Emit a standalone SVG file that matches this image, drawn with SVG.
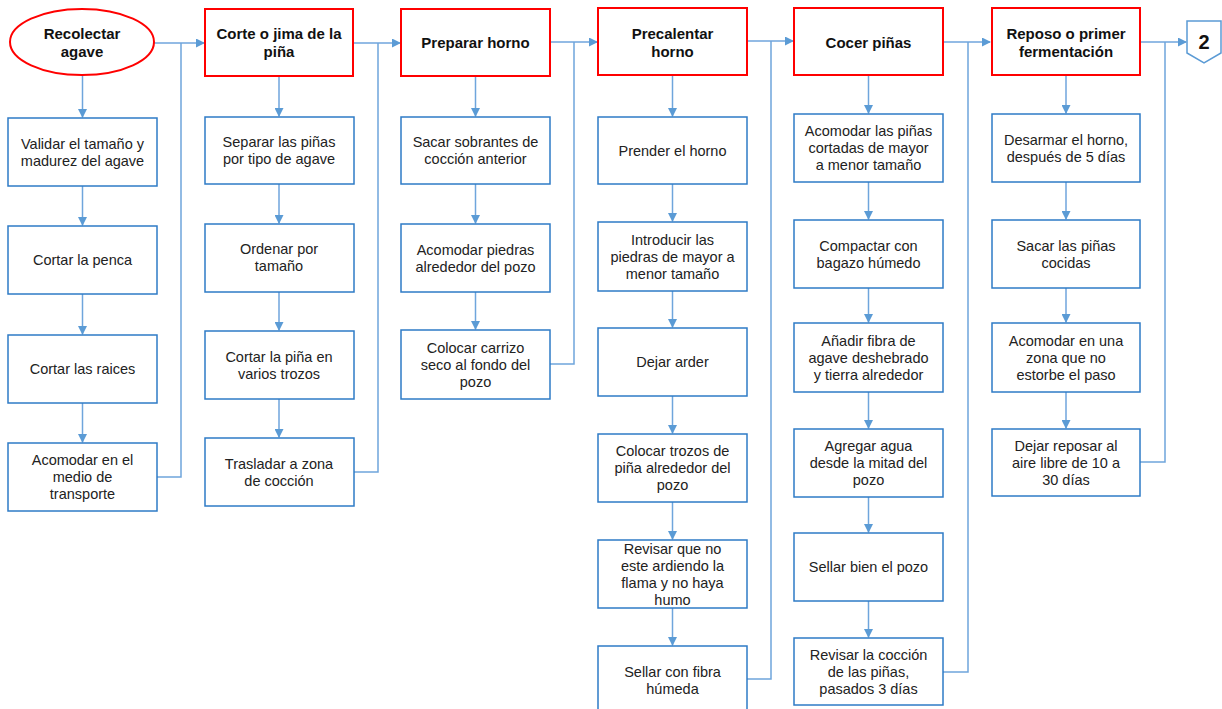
<svg xmlns="http://www.w3.org/2000/svg" width="1222" height="709" viewBox="0 0 1222 709">
<style>
.hd{fill:#fff;stroke:#FF0000;stroke-width:2}
.bx{fill:#fff;stroke:#2E7BC6;stroke-width:1.5}
.ht{font-family:"Liberation Sans",Arial,sans-serif;font-weight:bold;font-size:15px;fill:#111;text-anchor:middle}
.t{font-family:"Liberation Sans",Arial,sans-serif;font-size:14.5px;fill:#222;text-anchor:middle}
.c{fill:none;stroke:#6FA5DC;stroke-width:1.5}
.a{fill:none;stroke:#6FA5DC;stroke-width:1.5;marker-end:url(#ar)}
</style>
<defs>
<marker id="ar" markerUnits="userSpaceOnUse" markerWidth="9" markerHeight="9" refX="8" refY="4.5" orient="auto">
<path d="M0,0 L9,4.5 L0,9 z" fill="#5B9BD5"/>
</marker>
</defs>
<rect width="1222" height="709" fill="#fff"/>
<g id="connectors">
<path class="a" d="M154,43 H204"/>
<path class="a" d="M353,43 H400"/>
<path class="a" d="M550,42 H597"/>
<path class="a" d="M747,41 H793"/>
<path class="a" d="M943,42 H990"/>
<path class="a" d="M1140,42 H1186"/>
<path class="c" d="M157,477 H181 V43"/>
<path class="c" d="M353,472 H378 V43"/>
<path class="c" d="M550,364 H574 V42"/>
<path class="c" d="M747,679 H771 V41"/>
<path class="c" d="M943,672 H968 V42"/>
<path class="c" d="M1140,462 H1165 V42"/>
<path class="a" d="M82.5,75 V117"/>
<path class="a" d="M82.5,186 V225"/>
<path class="a" d="M82.5,294 V334"/>
<path class="a" d="M82.5,403 V442"/>
<path class="a" d="M279,76 V116"/>
<path class="a" d="M279,184 V223"/>
<path class="a" d="M279,292 V330"/>
<path class="a" d="M279,399 V437"/>
<path class="a" d="M475.5,76 V116"/>
<path class="a" d="M475.5,184 V223"/>
<path class="a" d="M475.5,292 V329"/>
<path class="a" d="M672.5,75 V116"/>
<path class="a" d="M672.5,184 V221"/>
<path class="a" d="M672.5,291 V327"/>
<path class="a" d="M672.5,396 V433"/>
<path class="a" d="M672.5,502 V539"/>
<path class="a" d="M672.5,608 V645"/>
<path class="a" d="M868.5,75 V113"/>
<path class="a" d="M868.5,182 V219"/>
<path class="a" d="M868.5,288 V322"/>
<path class="a" d="M868.5,392 V428"/>
<path class="a" d="M868.5,497 V532"/>
<path class="a" d="M868.5,601 V637"/>
<path class="a" d="M1066,76 V113"/>
<path class="a" d="M1066,182 V219"/>
<path class="a" d="M1066,288 V322"/>
<path class="a" d="M1066,392 V428"/>
</g>
<g id="n1h"><ellipse class="hd" cx="82" cy="42" rx="72" ry="33"/><text class="ht" x="82" y="39">Recolectar</text><text class="ht" x="82" y="57">agave</text></g>
<g id="n1a"><rect class="bx" x="8" y="118" width="149" height="68"/><text class="t" x="82.5" y="148.5">Validar el tamaño y</text><text class="t" x="82.5" y="165.5">madurez del agave</text></g>
<g id="n1b"><rect class="bx" x="8" y="226" width="149" height="68"/><text class="t" x="82.5" y="265">Cortar la penca</text></g>
<g id="n1c"><rect class="bx" x="8" y="335" width="149" height="68"/><text class="t" x="82.5" y="374">Cortar las raices</text></g>
<g id="n1d"><rect class="bx" x="8" y="443" width="149" height="68"/><text class="t" x="82.5" y="465">Acomodar en el</text><text class="t" x="82.5" y="482">medio de</text><text class="t" x="82.5" y="499">transporte</text></g>
<g id="n2h"><rect class="hd" x="205" y="9" width="148" height="67"/><text class="ht" x="279" y="39">Corte o jima de la</text><text class="ht" x="279" y="57">piña</text></g>
<g id="n2a"><rect class="bx" x="205" y="117" width="149" height="67"/><text class="t" x="279" y="147">Separar las piñas</text><text class="t" x="279" y="164">por tipo de agave</text></g>
<g id="n2b"><rect class="bx" x="205" y="224" width="149" height="68"/><text class="t" x="279" y="254">Ordenar por</text><text class="t" x="279" y="271">tamaño</text></g>
<g id="n2c"><rect class="bx" x="205" y="331" width="149" height="68"/><text class="t" x="279" y="361.5">Cortar la piña en</text><text class="t" x="279" y="378.5">varios trozos</text></g>
<g id="n2d"><rect class="bx" x="205" y="438" width="149" height="68"/><text class="t" x="279" y="468.5">Trasladar a zona</text><text class="t" x="279" y="485.5">de cocción</text></g>
<g id="n3h"><rect class="hd" x="401" y="9" width="149" height="67"/><text class="ht" x="475.5" y="48">Preparar horno</text></g>
<g id="n3a"><rect class="bx" x="401" y="117" width="149" height="67"/><text class="t" x="475.5" y="147">Sacar sobrantes de</text><text class="t" x="475.5" y="164">cocción anterior</text></g>
<g id="n3b"><rect class="bx" x="401" y="224" width="149" height="68"/><text class="t" x="475.5" y="254.5">Acomodar piedras</text><text class="t" x="475.5" y="271.5">alrededor del pozo</text></g>
<g id="n3c"><rect class="bx" x="401" y="330" width="149" height="69"/><text class="t" x="475.5" y="352.5">Colocar carrizo</text><text class="t" x="475.5" y="369.5">seco al fondo del</text><text class="t" x="475.5" y="386.5">pozo</text></g>
<g id="n4h"><rect class="hd" x="598" y="8" width="149" height="67"/><text class="ht" x="672.5" y="38.5">Precalentar</text><text class="ht" x="672.5" y="57">horno</text></g>
<g id="n4a"><rect class="bx" x="598" y="117" width="149" height="67"/><text class="t" x="672.5" y="155.5">Prender el horno</text></g>
<g id="n4b"><rect class="bx" x="598" y="222" width="149" height="69"/><text class="t" x="672.5" y="244.5">Introducir las</text><text class="t" x="672.5" y="261.5">piedras de mayor a</text><text class="t" x="672.5" y="278.5">menor tamaño</text></g>
<g id="n4c"><rect class="bx" x="598" y="328" width="149" height="68"/><text class="t" x="672.5" y="367">Dejar arder</text></g>
<g id="n4d"><rect class="bx" x="598" y="434" width="149" height="68"/><text class="t" x="672.5" y="456">Colocar trozos de</text><text class="t" x="672.5" y="473">piña alrededor del</text><text class="t" x="672.5" y="490">pozo</text></g>
<g id="n4e"><rect class="bx" x="598" y="540" width="149" height="68"/><text class="t" x="672.5" y="553.5">Revisar que no</text><text class="t" x="672.5" y="570.5">este ardiendo la</text><text class="t" x="672.5" y="587.5">flama y no haya</text><text class="t" x="672.5" y="604.5">humo</text></g>
<g id="n4f"><rect class="bx" x="598" y="646" width="149" height="68"/><text class="t" x="672.5" y="676.5">Sellar con fibra</text><text class="t" x="672.5" y="693.5">húmeda</text></g>
<g id="n5h"><rect class="hd" x="794" y="8" width="149" height="67"/><text class="ht" x="868.5" y="47.5">Cocer piñas</text></g>
<g id="n5a"><rect class="bx" x="794" y="114" width="149" height="68"/><text class="t" x="868.5" y="136">Acomodar las piñas</text><text class="t" x="868.5" y="153">cortadas de mayor</text><text class="t" x="868.5" y="170">a menor tamaño</text></g>
<g id="n5b"><rect class="bx" x="794" y="220" width="149" height="68"/><text class="t" x="868.5" y="250.5">Compactar con</text><text class="t" x="868.5" y="267.5">bagazo húmedo</text></g>
<g id="n5c"><rect class="bx" x="794" y="323" width="149" height="69"/><text class="t" x="868.5" y="345.5">Añadir fibra de</text><text class="t" x="868.5" y="362.5">agave deshebrado</text><text class="t" x="868.5" y="379.5">y tierra alrededor</text></g>
<g id="n5d"><rect class="bx" x="794" y="429" width="149" height="68"/><text class="t" x="868.5" y="451">Agregar agua</text><text class="t" x="868.5" y="468">desde la mitad del</text><text class="t" x="868.5" y="485">pozo</text></g>
<g id="n5e"><rect class="bx" x="794" y="533" width="149" height="68"/><text class="t" x="868.5" y="572">Sellar bien el pozo</text></g>
<g id="n5f"><rect class="bx" x="794" y="638" width="149" height="67"/><text class="t" x="868.5" y="659.5">Revisar la cocción</text><text class="t" x="868.5" y="676.5">de las piñas,</text><text class="t" x="868.5" y="693.5">pasados 3 días</text></g>
<g id="n6h"><rect class="hd" x="992" y="8" width="148" height="67"/><text class="ht" x="1066" y="38.5">Reposo o primer</text><text class="ht" x="1066" y="57">fermentación</text></g>
<g id="n6a"><rect class="bx" x="992" y="114" width="148" height="68"/><text class="t" x="1066" y="144.5">Desarmar el horno,</text><text class="t" x="1066" y="161.5">después de 5 días</text></g>
<g id="n6b"><rect class="bx" x="992" y="220" width="148" height="68"/><text class="t" x="1066" y="250.5">Sacar las piñas</text><text class="t" x="1066" y="267.5">cocidas</text></g>
<g id="n6c"><rect class="bx" x="992" y="323" width="148" height="69"/><text class="t" x="1066" y="345.5">Acomodar en una</text><text class="t" x="1066" y="362.5">zona que no</text><text class="t" x="1066" y="379.5">estorbe el paso</text></g>
<g id="n6d"><rect class="bx" x="992" y="429" width="148" height="67"/><text class="t" x="1066" y="450.5">Dejar reposar al</text><text class="t" x="1066" y="467.5">aire libre de 10 a</text><text class="t" x="1066" y="484.5">30 días</text></g>
<g id="off2"><polygon points="1187,21 1221,21 1221,53 1204,63 1187,53" fill="#fff" stroke="#5B9BD5" stroke-width="1.5"/><text class="ht" x="1204" y="49" style="font-size:20px">2</text></g>
</svg>
